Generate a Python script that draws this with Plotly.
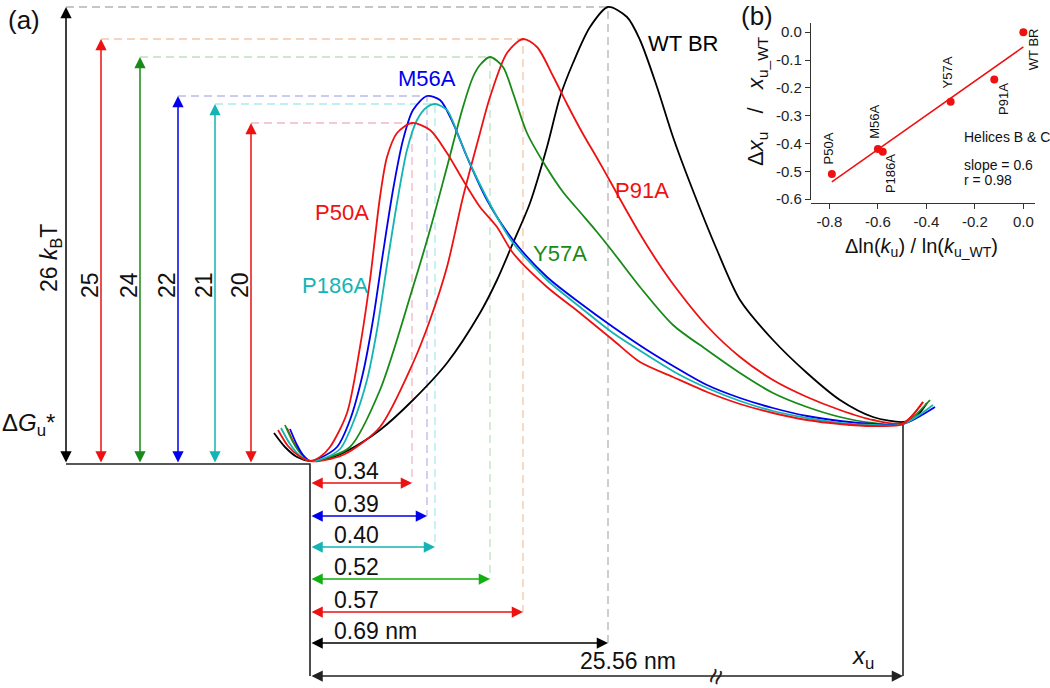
import plotly.graph_objects as go

# ---------------- panel (a): schematic landscapes ----------------
# x: distance from the folded-state minimum, y: height above it (schematic units)
names = ["WT BR", "P91A", "Y57A", "M56A", "P186A", "P50A"]
barrier_kt = ["26 <i>k</i><sub>B</sub>T", "25", "24", "22", "21", "20"]
dxu_text = ["0.69 nm", "0.57", "0.52", "0.39", "0.40", "0.34"]

peak_x = [298, 213, 180, 117, 125, 102]
peak_h = [457, 425, 407, 368, 360, 341]
bar_arrow_x = [-244, -209, -170, -132, -95, -59]
dist_arrow_y = [-179, -148, -115, -52, -83, -19]

x_wt = [-36, -25, -13, 0, 20, 37, 70, 103, 137, 170, 187, 203, 220, 237, 250, 263, 280, 298,
        317, 330, 347, 363, 380, 407, 430, 463, 497, 530, 563, 593, 605, 617]
y_wt = [31, 17, 7, 3, 6, 13, 34, 64, 101, 151, 184, 221, 261, 317, 367, 401, 437, 457,
        447, 424, 377, 327, 281, 214, 164, 124, 91, 64, 47, 42, 46, 61]

x_p91 = [-23, -13, 0, 20, 37, 70, 103, 120, 137, 153, 170, 180, 197, 213, 227, 243, 257, 273,
         287, 300, 315, 330, 347, 363, 397, 430, 463, 497, 530, 563, 593, 613]
y_p91 = [36, 16, 3, 5, 11, 37, 101, 144, 197, 267, 331, 367, 411, 425, 417, 388, 360, 330,
         306, 283, 256, 230, 203, 180, 138, 107, 84, 67, 54, 44, 41, 62]

x_y57 = [-25, -17, -8, 0, 20, 40, 70, 103, 120, 137, 153, 163, 170, 180, 193, 203, 217, 235,
         253, 270, 287, 303, 330, 363, 397, 430, 463, 497, 530, 563, 593, 620]
y_y57 = [39, 22, 9, 3, 7, 17, 74, 177, 234, 297, 357, 387, 399, 407, 397, 371, 331, 299,
         272, 252, 232, 212, 177, 139, 114, 91, 71, 57, 47, 41, 40, 64]

x_m56 = [-20, -13, -7, 0, 10, 27, 40, 53, 63, 73, 83, 93, 103, 117, 130, 143, 157, 177,
         203, 237, 270, 303, 337, 370, 397, 430, 463, 497, 530, 563, 593, 625]
y_m56 = [35, 19, 9, 3, 6, 17, 44, 91, 144, 211, 274, 324, 354, 368, 364, 341, 307, 264,
         224, 187, 161, 137, 114, 94, 79, 66, 56, 48, 43, 40, 40, 57]

x_p186 = [-29, -20, -10, 0, 12, 30, 43, 57, 67, 77, 87, 97, 107, 117, 125, 137, 150, 163,
          187, 203, 237, 270, 303, 337, 370, 397, 430, 463, 497, 530, 563, 593, 623]
y_p186 = [36, 20, 8, 3, 5, 15, 41, 84, 134, 199, 261, 314, 344, 357, 360, 354, 324, 294,
          247, 221, 184, 157, 131, 109, 89, 76, 63, 53, 46, 41, 39, 40, 59]

x_p50 = [-32, -22, -11, 0, 10, 20, 37, 50, 60, 70, 77, 87, 102, 120, 137, 153, 170, 187,
         203, 237, 270, 303, 330, 363, 397, 430, 463, 497, 530, 563, 593, 613]
y_p50 = [34, 18, 8, 3, 7, 17, 51, 117, 184, 267, 307, 331, 341, 334, 311, 284, 257, 237,
         211, 177, 151, 124, 102, 87, 72, 60, 51, 44, 40, 38, 40, 62]

curves_x = [x_wt, x_p91, x_y57, x_m56, x_p186, x_p50]
curves_y = [y_wt, y_p91, y_y57, y_m56, y_p186, y_p50]

unfold_x = 593          # position of the unfolded-side minimum
unfold_h = 42
total_text = "25.56 nm"
total_y = -212

# ---------------- panel (b): scatter ----------------
ratio_k = [-0.79, -0.60, -0.58, -0.30, -0.12, 0.0]
ratio_x = [-0.51, -0.42, -0.43, -0.25, -0.17, 0.0]
point_names = ["P50A", "M56A", "P186A", "Y57A", "P91A", "WT BR"]
fit_k = [-0.79, 0.0]
fit_x = [-0.538, -0.053]
b_xticks = [-0.8, -0.6, -0.4, -0.2, 0.0]
b_xticktext = ["-0.8", "-0.6", "-0.4", "-0.2", "0.0"]
b_yticks = [0.0, -0.1, -0.2, -0.3, -0.4, -0.5, -0.6]
b_yticktext = ["0.0", "-0.1", "-0.2", "-0.3", "-0.4", "-0.5", "-0.6"]

FONT = "Liberation Sans, Arial, Helvetica, sans-serif"
curve_col = ["#000000", "#ee1111", "#178a17", "#0000ee", "#14b4b4", "#ee1111"]
hbar_col = ["#000000", "#ee1111", "#10b010", "#0000ee", "#14b4b4", "#ee1111"]
guide_col = ["#b4b4b4", "#f5c6a8", "#bfe0bf", "#b9b9ee", "#a9ecec", "#efb9c2"]

fig = go.Figure()

# dashed guides from the barrier arrows to each peak and down to the distance arrows
for i in range(len(names)):
    fig.add_trace(go.Scatter(
        x=[bar_arrow_x[i], peak_x[i], peak_x[i]],
        y=[peak_h[i], peak_h[i], dist_arrow_y[i]],
        mode="lines", line=dict(color=guide_col[i], width=1.3, dash="8px,5px"),
        hoverinfo="skip", showlegend=False))

# frame lines: baseline, the folded-state drop line and the unfolded-state drop line
fig.add_trace(go.Scatter(x=[bar_arrow_x[0], 0, 0], y=[0, 0, total_y], mode="lines",
                         line=dict(color="#222", width=1.6), showlegend=False, hoverinfo="skip"))
fig.add_trace(go.Scatter(x=[unfold_x, unfold_x], y=[unfold_h, total_y], mode="lines",
                         line=dict(color="#222", width=1.6), showlegend=False, hoverinfo="skip"))

# energy landscapes
for i in range(len(names)):
    fig.add_trace(go.Scatter(
        x=curves_x[i], y=curves_y[i], mode="lines", name=names[i],
        line=dict(color=curve_col[i], width=1.8, shape="spline", smoothing=0.8),
        showlegend=False))

ann = []


def dbl_arrow(x0, y0, x1, y1, color, ref=("x", "y")):
    return dict(x=x1, y=y1, ax=x0, ay=y0, xref=ref[0], yref=ref[1], axref=ref[0], ayref=ref[1],
                text="", showarrow=True, arrowside="end+start", arrowhead=2, startarrowhead=2,
                arrowsize=1.5, startarrowsize=1.5, arrowwidth=1.5, arrowcolor=color,
                standoff=0, startstandoff=0)


def label(x, y, text, size, color="#111", xref="x", yref="y", angle=0, xanchor="center"):
    return dict(x=x, y=y, xref=xref, yref=yref, text=text, textangle=angle, showarrow=False,
                xanchor=xanchor, yanchor="middle",
                font=dict(family=FONT, size=size, color=color))


for i in range(len(names)):
    # barrier height arrows
    ann.append(dbl_arrow(bar_arrow_x[i], 0, bar_arrow_x[i], peak_h[i], curve_col[i]))
    ann.append(label(bar_arrow_x[i] - (16 if i == 0 else 11), 206 if i == 0 else 179,
                     barrier_kt[i], 23, angle=-90))
    # transition-state distance arrows
    ann.append(dbl_arrow(0, dist_arrow_y[i], peak_x[i], dist_arrow_y[i], hbar_col[i]))
    ann.append(label(22, dist_arrow_y[i] + 12, dxu_text[i], 23, xanchor="left"))

ann.append(dbl_arrow(0, total_y, unfold_x, total_y, "#222"))
ann.append(label(318, total_y + 15, total_text, 23))
ann.append(label(405, total_y - 1, "\u2248", 28, color="#222", angle=-70))
ann.append(label(553, total_y + 19, "<i>x</i><sub>u</sub>", 24))
ann.append(label(-282, 40, "\u0394<i>G</i><sub>u</sub>*", 24))
ann.append(label(-286, 444, "(a)", 26))

# curve labels
label_pos = {"WT BR": (373, 421), "P91A": (332, 274), "Y57A": (250, 211),
             "M56A": (117, 386), "P186A": (25, 179), "P50A": (32, 252)}
for i, n in enumerate(names):
    lx, ly = label_pos[n]
    ann.append(label(lx, ly, n, 22, color=curve_col[i]))

# ---------------- panel (b) traces ----------------
fig.add_trace(go.Scatter(x=fit_k, y=fit_x, mode="lines", xaxis="x2", yaxis="y2",
                         line=dict(color="#ee1111", width=1.5), showlegend=False))
fig.add_trace(go.Scatter(x=ratio_k, y=ratio_x, mode="markers", xaxis="x2", yaxis="y2",
                         marker=dict(color="#ee1111", size=8), showlegend=False,
                         text=point_names, cliponaxis=False))

b_label_pos = {"P50A": (-0.80, -0.416), "M56A": (-0.612, -0.322), "P186A": (-0.545, -0.509),
               "Y57A": (-0.309, -0.143), "P91A": (-0.080, -0.240), "WT BR": (0.045, -0.06)}
for n in point_names:
    px, py = b_label_pos[n]
    ann.append(label(px, py, n, 13, xref="x2", yref="y2", angle=-90))
for t, yy in [("Helices B &amp; C", -0.376), ("slope = 0.6", -0.477), ("r = 0.98", -0.531)]:
    ann.append(label(-0.255, yy, t, 14, xref="x2", yref="y2", xanchor="left"))
ann.append(label(757 / 1050, 1 - 101 / 688,
                 "\u0394<i>x</i><sub>u</sub>   /   <i>x</i><sub>u_WT</sub>", 22,
                 xref="paper", yref="paper", angle=-90))
ann.append(label(922 / 1050, 1 - 248 / 688,
                 "\u0394ln(<i>k</i><sub>u</sub>) / ln(<i>k</i><sub>u_WT</sub>)", 20,
                 xref="paper", yref="paper"))
ann.append(label(757 / 1050, 1 - 16 / 688, "(b)", 26, xref="paper", yref="paper"))

axis_b = dict(showline=True, linecolor="#333", linewidth=1.2, ticks="outside", ticklen=5,
              tickcolor="#333", showgrid=False, zeroline=False,
              tickfont=dict(family=FONT, size=15, color="#222"), fixedrange=True)

fig.update_layout(
    width=1050, height=688,
    margin=dict(l=0, r=0, t=0, b=0, autoexpand=False),
    paper_bgcolor="white", plot_bgcolor="rgba(0,0,0,0)",
    xaxis=dict(domain=[0, 1], range=[-310, 740], visible=False, fixedrange=True),
    yaxis=dict(domain=[0, 1], range=[-224, 464], visible=False, fixedrange=True),
    xaxis2=dict(axis_b, domain=[811 / 1050, 1035 / 1050], range=[-0.876, 0.048],
                anchor="free", position=1 - 203 / 688,
                tickvals=b_xticks, ticktext=b_xticktext),
    yaxis2=dict(axis_b, domain=[1 - 200 / 688, 1 - 23 / 688], range=[-0.603, 0.033],
                anchor="x2", tickvals=b_yticks, ticktext=b_yticktext),
    annotations=ann,
    showlegend=False,
)

fig.write_html(
    "out.html",
    config={"displayModeBar": False},
    post_script="document.body.style.margin='0';"
                "document.documentElement.style.overflow='hidden';"
                "document.body.style.overflow='hidden';",
)
